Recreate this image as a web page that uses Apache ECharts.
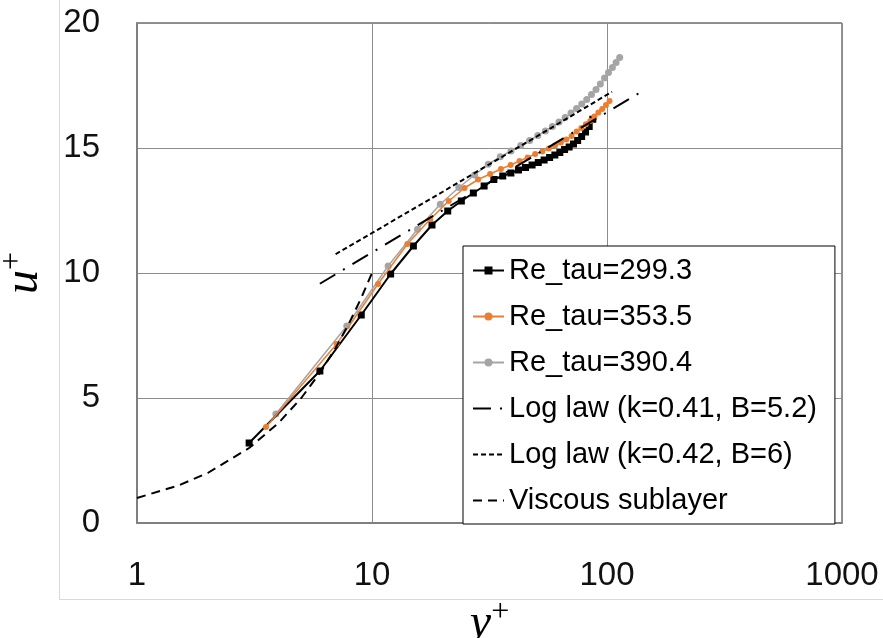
<!DOCTYPE html>
<html>
<head>
<meta charset="utf-8">
<script src="https://cdn.jsdelivr.net/npm/echarts@6/dist/echarts.min.js"></script>
<style>
  html, body { margin: 0; padding: 0; background: #fff; }
  #chart { width: 883px; height: 638px; }
</style>
</head>
<body>
<div id="chart"></div>
<script>
// y+ / u+ profiles
var yPlus299 = [3, 6, 9, 12, 15, 18, 21, 24, 27, 30, 33, 36, 39, 42, 45, 48, 51, 54, 57, 60, 63, 66, 69, 72, 75, 78, 81, 84, 87];
var uPlus299 = [3.2, 6.08, 8.32, 9.96, 11.08, 11.92, 12.48, 12.88, 13.2, 13.48, 13.74, 13.88, 14.0, 14.12, 14.22, 14.32, 14.42, 14.52, 14.62, 14.72, 14.82, 14.94, 15.04, 15.16, 15.3, 15.46, 15.64, 15.86, 16.15];

var yPlus353 = [3.54, 7.07, 10.61, 14.14, 17.68, 21.21, 24.75, 28.28, 31.82, 35.35, 38.89, 42.42, 45.96, 49.49, 53.03, 56.56, 60.1, 63.63, 67.17, 70.7, 74.24, 77.77, 81.31, 84.84, 88.38, 91.91, 95.45, 98.98, 102.52];
var uPlus353 = [3.84, 7.16, 9.56, 11.16, 12.15, 12.88, 13.4, 13.74, 13.96, 14.16, 14.32, 14.48, 14.62, 14.76, 14.86, 14.98, 15.1, 15.22, 15.34, 15.48, 15.66, 15.8, 15.95, 16.08, 16.26, 16.42, 16.56, 16.72, 16.88];

var yPlus390 = [3.9, 7.81, 11.71, 15.62, 19.52, 23.42, 27.33, 31.23, 35.14, 39.04, 42.94, 46.85, 50.75, 54.66, 58.56, 62.46, 66.37, 70.27, 74.18, 78.08, 81.98, 85.89, 89.79, 93.7, 97.6, 101.5, 105.41, 109.31, 113.22];
var uPlus390 = [4.36, 7.88, 10.28, 11.75, 12.75, 13.42, 13.92, 14.35, 14.65, 14.88, 15.1, 15.3, 15.5, 15.68, 15.86, 16.04, 16.22, 16.4, 16.58, 16.76, 16.94, 17.14, 17.34, 17.56, 17.8, 18.02, 18.22, 18.42, 18.62];

// reference lines
var yPlusLog1 = [6, 10, 20, 50, 100, 144];
var uPlusLog1 = [9.57, 10.82, 12.51, 14.74, 16.43, 17.32];
var yPlusLog2 = [7, 10, 20, 50, 105];
var uPlusLog2 = [10.75, 11.6, 13.25, 15.45, 17.25];
var yPlusVisc = [1, 1.5, 2, 3, 4, 5, 6, 7, 8, 9, 10];
var uPlusVisc = [1, 1.5, 2, 3, 4, 5, 6, 7, 8, 9, 10];

var seriesNames = ["Re_tau=299.3", "Re_tau=353.5", "Re_tau=390.4",
  "Log law (k=0.41, B=5.2)", "Log law (k=0.42, B=6)", "Viscous sublayer"];

function pairs(xs, ys) {
  return xs.map(function (x, i) { return [x, ys[i]]; });
}

var chart = echarts.init(document.getElementById("chart"), null, { renderer: "canvas" });

var labelFont = "'Liberation Sans', Arial, sans-serif";
var mathFont = "'Liberation Serif', 'DejaVu Serif', serif";

// legend entries: plain lines (no marker) for the three reference curves
var legendData = seriesNames.map(function (n, i) {
  if (i < 3) return { name: n };
  return { name: n, itemStyle: { opacity: 0 } };
});

var option = {
  backgroundColor: "#fff",
  animation: false,
  graphic: [
    {
      type: "rect",
      shape: { x: 59.5, y: -5, width: 900, height: 604.5 },
      style: { fill: "none", stroke: "#d9d9d9", lineWidth: 1 },
      silent: true,
      z: -10
    }
  ],
  grid: {
    left: 137,
    top: 23,
    width: 705,
    height: 500,
    show: true,
    borderColor: "#262626",
    borderWidth: 1,
    containLabel: false,
    outerBoundsMode: "none"
  },
  legend: {
    data: legendData,
    orient: "vertical",
    left: 463,
    top: 246,
    padding: [10, 18, 9, 9],
    itemWidth: 31,
    itemHeight: 10,
    itemGap: 17,
    backgroundColor: "#fff",
    borderColor: "#000",
    borderWidth: 1,
    borderRadius: 0,
    textStyle: {
      color: "#000",
      fontFamily: labelFont,
      fontSize: 29,
      lineHeight: 28
    }
  },
  xAxis: {
    type: "log",
    logBase: 10,
    min: 1,
    max: 1000,
    name: "{v|y}{p|+}",
    nameLocation: "middle",
    nameGap: 59,
    nameTextStyle: {
      rich: {
        v: { fontFamily: mathFont, fontStyle: "italic", fontSize: 48, color: "#000" },
        p: { fontFamily: mathFont, fontSize: 32, color: "#000", padding: [0, 0, 22, 0] }
      }
    },
    axisLine: { show: true, lineStyle: { color: "#7f7f7f", width: 2 } },
    axisTick: { show: false },
    axisLabel: {
      color: "#111", fontFamily: labelFont, fontSize: 33, margin: 36,
      formatter: function (v) { return String(v); }
    },
    splitLine: { show: true, lineStyle: { color: "#8c8c8c", width: 1 } },
    minorTick: { show: false },
    minorSplitLine: { show: false }
  },
  yAxis: {
    type: "value",
    min: 0,
    max: 20,
    interval: 5,
    name: "{v|u}{p|+}",
    nameLocation: "middle",
    nameGap: 86,
    nameRotate: 90,
    nameTextStyle: {
      rich: {
        v: { fontFamily: mathFont, fontStyle: "italic", fontSize: 48, color: "#000" },
        p: { fontFamily: mathFont, fontSize: 32, color: "#000", padding: [0, 0, 22, 0] }
      }
    },
    axisLine: { show: true, lineStyle: { color: "#7f7f7f", width: 2 } },
    axisTick: { show: false },
    axisLabel: { color: "#111", fontFamily: labelFont, fontSize: 33, margin: 37 },
    splitLine: { show: true, lineStyle: { color: "#8c8c8c", width: 1 } }
  },
  series: [
    {
      name: seriesNames[0],
      type: "line",
      data: pairs(yPlus299, uPlus299),
      symbol: "rect",
      symbolSize: 7,
      showSymbol: true,
      showAllSymbol: true,
      itemStyle: { color: "#000" },
      lineStyle: { color: "#000", width: 2 },
      z: 4
    },
    {
      name: seriesNames[1],
      type: "line",
      data: pairs(yPlus353, uPlus353),
      symbol: "circle",
      symbolSize: 6,
      showSymbol: true,
      showAllSymbol: true,
      itemStyle: { color: "#ed7d31" },
      lineStyle: { color: "#ed7d31", width: 1.5 },
      z: 5
    },
    {
      name: seriesNames[2],
      type: "line",
      data: pairs(yPlus390, uPlus390),
      symbol: "circle",
      symbolSize: 7,
      showSymbol: true,
      showAllSymbol: true,
      itemStyle: { color: "#a5a5a5" },
      lineStyle: { color: "#a5a5a5", width: 1.5 },
      z: 3
    },
    {
      name: seriesNames[3],
      type: "line",
      data: pairs(yPlusLog1, uPlusLog1),
      symbol: "none",
      itemStyle: { color: "#000" },
      lineStyle: { color: "#000", width: 2, type: [18, 9, 2, 9] },
      z: 6
    },
    {
      name: seriesNames[4],
      type: "line",
      data: pairs(yPlusLog2, uPlusLog2),
      symbol: "none",
      itemStyle: { color: "#000" },
      lineStyle: { color: "#000", width: 2, type: [5, 3] },
      z: 6
    },
    {
      name: seriesNames[5],
      type: "line",
      data: pairs(yPlusVisc, uPlusVisc),
      symbol: "none",
      itemStyle: { color: "#000" },
      lineStyle: { color: "#000", width: 2, type: [9, 6] },
      z: 6
    }
  ]
};

chart.setOption(option);
</script>
</body>
</html>
